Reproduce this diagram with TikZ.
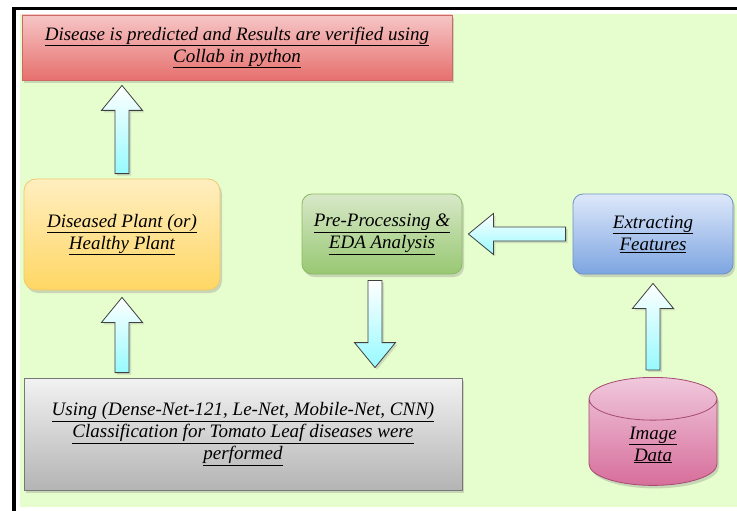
\documentclass[tikz,border=0pt]{standalone}
\usepackage{fontspec}
\setmainfont{Liberation Serif}
\newfontfamily\boxfont{Liberation Serif}
\usetikzlibrary{positioning,calc,shadows,shapes.geometric}

\definecolor{pagegreen}{RGB}{230,253,205}
\definecolor{redtop}{RGB}{246,198,198}
\definecolor{redbot}{RGB}{230,112,110}
\definecolor{redline}{RGB}{205,105,100}
\definecolor{yeltop}{RGB}{255,238,192}
\definecolor{yelbot}{RGB}{255,215,100}
\definecolor{yelline}{RGB}{240,200,110}
\definecolor{grntop}{RGB}{216,232,200}
\definecolor{grnbot}{RGB}{152,200,115}
\definecolor{grnline}{RGB}{140,185,100}
\definecolor{blutop}{RGB}{222,232,250}
\definecolor{blubot}{RGB}{125,165,225}
\definecolor{bluline}{RGB}{110,145,200}
\definecolor{grytop}{RGB}{242,242,242}
\definecolor{grybot}{RGB}{180,180,180}
\definecolor{gryline}{RGB}{120,120,120}
\definecolor{pnktop}{RGB}{240,200,220}
\definecolor{pnkbot}{RGB}{215,110,155}
\definecolor{pnkline}{RGB}{165,75,115}
\definecolor{arrcyan}{RGB}{150,250,255}

\tikzset{font=\boxfont\itshape\fontsize{19}{22}\selectfont}
\tikzset{
  box/.style={align=center, inner sep=2pt, line width=0.8pt, text=black,
    drop shadow={shadow xshift=2pt, shadow yshift=-3pt, opacity=0.3}},
  resultbox/.style={box, draw=redline, top color=redtop, bottom color=redbot,
    minimum width=430pt, minimum height=65pt},
  plantbox/.style={box, rounded corners=12pt, draw=yelline, top color=yeltop,
    bottom color=yelbot, minimum width=196pt, minimum height=111pt},
  classbox/.style={box, draw=gryline, top color=grytop, bottom color=grybot,
    minimum width=438pt, minimum height=112pt},
  prepbox/.style={box, rounded corners=10pt, draw=grnline, top color=grntop,
    bottom color=grnbot, minimum width=160pt, minimum height=80pt},
  featbox/.style={box, rounded corners=10pt, draw=bluline, top color=blutop,
    bottom color=blubot, minimum width=160pt, minimum height=80pt},
  dbbox/.style={box, cylinder, shape border rotate=90, aspect=0.83, draw=pnkline,
    top color=pnktop, bottom color=pnkbot, minimum width=128pt, minimum height=108pt},
  blockarr/.style={draw=black!75, line width=0.8pt, top color=white, bottom color=arrcyan,
    drop shadow={shadow xshift=2pt, shadow yshift=-2pt, opacity=0.25}}
}

% underlined line of text
\newcommand{\undr}[1]{\underline{#1}}
% fat arrow from tail #1 to tip #2
\newcommand{\blockarrow}[2]{%
  \coordinate (neck) at ($(#2)!25pt!(#1)$);
  \path[blockarr] ($(#1)!7pt!90:(#2)$) -- ($(neck)!7pt!90:(#2)$)
    -- ($(neck)!20.5pt!90:(#2)$) -- (#2) -- ($(neck)!20.5pt!-90:(#2)$)
    -- ($(neck)!7pt!-90:(#2)$) -- ($(#1)!7pt!-90:(#2)$) -- cycle;
}

\begin{document}
\begin{tikzpicture}[x=1pt,y=1pt]
	\useasboundingbox (0,0) rectangle (737,-511);
	\fill[white] (0,0) rectangle (737,-511);
	\fill[pagegreen] (20,-14) rectangle (737,-507);
	\draw[line width=3.5pt] (14,-511) -- (14,-8.5) -- (737,-8.5);

	\node[resultbox] (result) at (237,-47.5)
		{\undr{Disease is predicted and Results are verified using}\\ \undr{Collab in python}};
	\node[plantbox] (plant) at (122,-234.5)
		{\undr{Diseased Plant (or)}\\ \undr{Healthy Plant}};
	\node[classbox] (classif) at (243,-434)
		{\undr{Using (Dense-Net-121, Le-Net, Mobile-Net, CNN)}\\
		 \undr{Classification for Tomato Leaf diseases were}\\ \undr{performed}};
	\node[prepbox] (prep) at (382,-234)
		{\undr{Pre-Processing \&}\\ \undr{EDA Analysis}};
	\node[featbox] (extract) at (653,-234)
		{\undr{Extracting}\\ \undr{Features}};
	\node[dbbox, anchor=north] (imgdata) at (653,-377)
		{\undr{Image}\\ \undr{Data}};

	\coordinate (a1s) at ($(plant.north)+(0,5)$);
	\coordinate (a1e) at ($(a1s |- result.south)+(0,-5)$);
	\coordinate (a2s) at ($(plant |- classif.north)+(0,5)$);
	\coordinate (a2e) at ($(plant.south)+(0,-7)$);
	\coordinate (a3s) at ($(prep.south)+(-7,-6)$);
	\coordinate (a3e) at ($(a3s |- classif.north)+(0,10)$);
	\coordinate (a4s) at ($(extract.west)+(-7,0)$);
	\coordinate (a4e) at ($(prep.east)+(6,0)$);
	\coordinate (a5s) at ($(imgdata.north)+(0,7)$);
	\coordinate (a5e) at ($(extract.south)+(0,-9)$);

	\blockarrow{a1s}{a1e}
	\blockarrow{a2s}{a2e}
	\blockarrow{a3s}{a3e}
	\blockarrow{a4s}{a4e}
	\blockarrow{a5s}{a5e}
\end{tikzpicture}
\end{document}
